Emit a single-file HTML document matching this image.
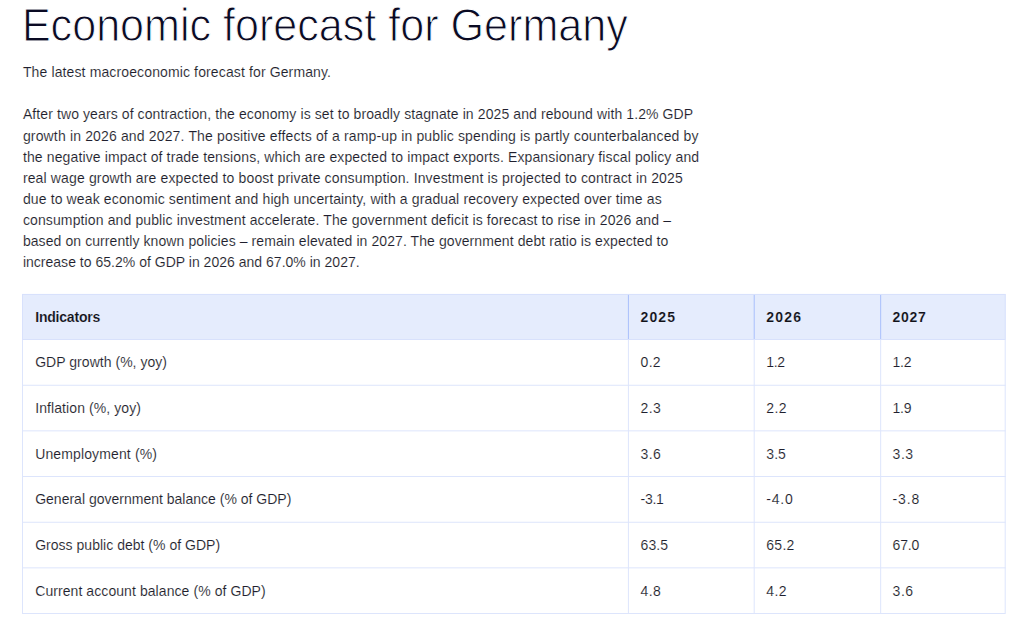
<!DOCTYPE html>
<html><head><meta charset="utf-8">
<style>
html,body{margin:0;padding:0;background:#fff;}
body{width:1033px;height:636px;overflow:hidden;position:relative;font-family:"Liberation Sans",sans-serif;color:#1f1f2e;}
#w{position:absolute;left:0;top:0;width:1181px;height:727px;transform:scale(0.875);transform-origin:0 0;}
h1{position:absolute;left:25.029px;top:-1.257px;margin:0;font-weight:normal;font-size:53.5px;line-height:60px;color:#0a0a23;white-space:nowrap;letter-spacing:0px;transform:scaleX(0.9205);transform-origin:0 0;-webkit-text-stroke:1.2px #fff;}
.lead,.para,.t{-webkit-text-stroke:0.12px #fff;}
.lead{position:absolute;left:26.171px;top:70.857px;margin:0;font-size:16px;line-height:24px;white-space:nowrap;letter-spacing:0.1448px}
.para{position:absolute;left:26.171px;top:119.429px;margin:0;font-size:16px;white-space:nowrap;}
.para div{height:24.114px;line-height:24.114px;}
.hb{position:absolute;background:#e5ecfd;}
.hl{position:absolute;background:#dde5fc;}
.hh{position:absolute;background:#d8e1fc;}
.vl{position:absolute;background:#dde5fc;}
.vh{position:absolute;background:#a9bffc;}
.t{position:absolute;font-size:16px;line-height:20px;white-space:nowrap;}
.b{font-weight:bold;color:#111118;-webkit-text-stroke:0.15px #e5ecfd;}
</style></head><body>
<svg style="position:absolute;left:0;top:0" width="1033" height="636">
<rect x="22.000" y="293.950" width="983.700" height="46.050" fill="#e5ecfd"/>
<rect x="22.000" y="293.950" width="983.700" height="1.000" fill="#d8e1fc"/>
<rect x="22.000" y="339.000" width="983.700" height="1.000" fill="#d8e1fc"/>
<rect x="22.000" y="384.750" width="983.700" height="1.000" fill="#dde5fc"/>
<rect x="22.000" y="430.350" width="983.700" height="1.000" fill="#dde5fc"/>
<rect x="22.000" y="476.000" width="983.700" height="1.000" fill="#dde5fc"/>
<rect x="22.000" y="521.750" width="983.700" height="1.000" fill="#dde5fc"/>
<rect x="22.000" y="567.350" width="983.700" height="1.000" fill="#dde5fc"/>
<rect x="22.000" y="613.000" width="983.700" height="1.000" fill="#dde5fc"/>
<rect x="22.000" y="340.000" width="1.000" height="273.000" fill="#dde5fc"/>
<rect x="22.000" y="294.950" width="1.000" height="44.050" fill="#d8e1fc"/>
<rect x="627.900" y="340.000" width="1.000" height="273.000" fill="#dde5fc"/>
<rect x="627.900" y="294.950" width="1.000" height="44.050" fill="#a9bffc"/>
<rect x="753.700" y="340.000" width="1.000" height="273.000" fill="#dde5fc"/>
<rect x="753.700" y="294.950" width="1.000" height="44.050" fill="#a9bffc"/>
<rect x="880.160" y="340.000" width="1.000" height="273.000" fill="#dde5fc"/>
<rect x="880.160" y="294.950" width="1.000" height="44.050" fill="#a9bffc"/>
<rect x="1004.700" y="340.000" width="1.000" height="273.000" fill="#dde5fc"/>
<rect x="1004.700" y="294.950" width="1.000" height="44.050" fill="#d8e1fc"/>
</svg>
<div id="w">
<h1>Economic forecast for Germany</h1>
<p class="lead">The latest macroeconomic forecast for Germany.</p>
<div class="para">
<div style="letter-spacing:0.1143px">After two years of contraction, the economy is set to broadly stagnate in 2025 and rebound with 1.2% GDP</div>
<div style="letter-spacing:0.1764px">growth in 2026 and 2027. The positive effects of a ramp-up in public spending is partly counterbalanced by</div>
<div style="letter-spacing:0.1423px">the negative impact of trade tensions, which are expected to impact exports. Expansionary fiscal policy and</div>
<div style="letter-spacing:0.1647px">real wage growth are expected to boost private consumption. Investment is projected to contract in 2025</div>
<div style="letter-spacing:0.1485px">due to weak economic sentiment and high uncertainty, with a gradual recovery expected over time as</div>
<div style="letter-spacing:0.1414px">consumption and public investment accelerate. The government deficit is forecast to rise in 2026 and &ndash;</div>
<div style="letter-spacing:0.0948px">based on currently known policies &ndash; remain elevated in 2027. The government debt ratio is expected to</div>
<div style="letter-spacing:0.0183px">increase to 65.2% of GDP in 2026 and 67.0% in 2027.</div>
</div>
<div class="t b" style="left:40.229px;top:352.543px;letter-spacing:-0.2286px">Indicators</div>
<div class="t b" style="left:732.114px;top:352.543px;letter-spacing:1.2191px">2025</div>
<div class="t b" style="left:875.771px;top:352.543px;letter-spacing:1.3714px">2026</div>
<div class="t b" style="left:1020.114px;top:352.543px;letter-spacing:0.8px">2027</div>
<div class="t" style="left:40.229px;top:404.223px;letter-spacing:0.0381px">GDP growth (%, yoy)</div>
<div class="t" style="left:732.114px;top:404.223px;letter-spacing:0.3429px">0.2</div>
<div class="t" style="left:875.771px;top:404.223px;letter-spacing:-0.35px">1.2</div>
<div class="t" style="left:1020.114px;top:404.223px;letter-spacing:-0.35px">1.2</div>
<div class="t" style="left:40.229px;top:456.931px;letter-spacing:0.1008px">Inflation (%, yoy)</div>
<div class="t" style="left:732.114px;top:456.931px;letter-spacing:0.4572px">2.3</div>
<div class="t" style="left:875.771px;top:456.931px;letter-spacing:0.5143px">2.2</div>
<div class="t" style="left:1020.114px;top:456.931px;letter-spacing:-0.35px">1.9</div>
<div class="t" style="left:40.229px;top:509.126px;letter-spacing:0.1448px">Unemployment (%)</div>
<div class="t" style="left:732.114px;top:509.126px;letter-spacing:0.4572px">3.6</div>
<div class="t" style="left:875.771px;top:509.126px;letter-spacing:0.0572px">3.5</div>
<div class="t" style="left:1020.114px;top:509.126px;letter-spacing:0.6286px">3.3</div>
<div class="t" style="left:40.229px;top:561.320px;letter-spacing:0.0032px">General government balance (% of GDP)</div>
<div class="t" style="left:732.114px;top:561.320px;letter-spacing:-0.35px">-3.1</div>
<div class="t" style="left:875.771px;top:561.320px;letter-spacing:0.8762px">-4.0</div>
<div class="t" style="left:1020.114px;top:561.320px;letter-spacing:0.9524px">-3.8</div>
<div class="t" style="left:40.229px;top:613.514px;letter-spacing:0.0212px">Gross public debt (% of GDP)</div>
<div class="t" style="left:732.114px;top:613.514px;letter-spacing:0.1142px">63.5</div>
<div class="t" style="left:875.771px;top:613.514px;letter-spacing:0.3048px">65.2</div>
<div class="t" style="left:1020.114px;top:613.514px;letter-spacing:-0.1905px">67.0</div>
<div class="t" style="left:40.229px;top:665.709px;letter-spacing:0.0866px">Current account balance (% of GDP)</div>
<div class="t" style="left:732.114px;top:665.709px;letter-spacing:0.4572px">4.8</div>
<div class="t" style="left:875.771px;top:665.709px;letter-spacing:0.5143px">4.2</div>
<div class="t" style="left:1020.114px;top:665.709px;letter-spacing:0.6286px">3.6</div>
</div></body></html>
